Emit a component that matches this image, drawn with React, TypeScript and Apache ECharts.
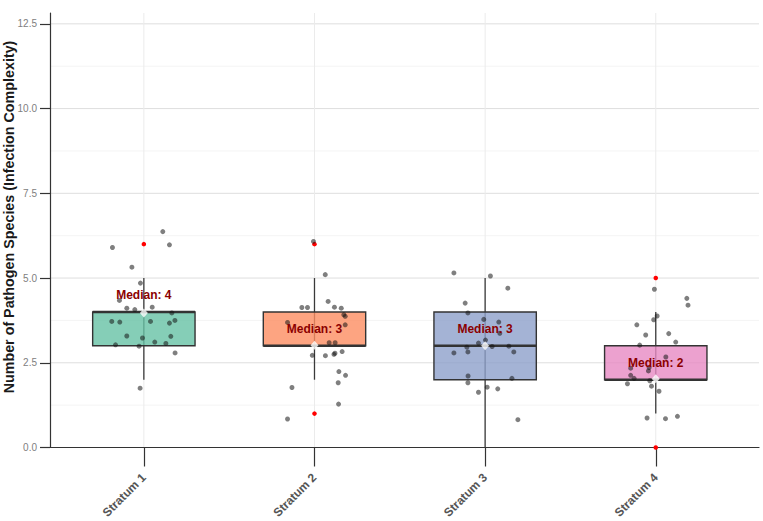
import React, { useEffect, useRef } from "react";
import * as echarts from "echarts";

// Strata on the x axis
const categories = ["Stratum 1", "Stratum 2", "Stratum 3", "Stratum 4"];

// Box statistics per stratum
const whiskerLow = [2, 2, 0, 1];
const q1 = [3, 3, 2, 2];
const medians = [4, 3, 3, 2];
const q3 = [4, 4, 4, 3];
const whiskerHigh = [5, 5, 5, 4];
const means = [3.97, 3.02, 3.0, 2.03];

// Outliers: [stratum number, pathogen count]
const outliers: [number, number][] = [
  [1, 6],
  [2, 6],
  [2, 1],
  [4, 5],
  [4, 0],
];

// Jittered observations: [horizontal jitter, jittered count]
const stratum1Points: [number, number][] = [
  [0.111, 6.37], [-0.184, 5.9], [0.15, 5.98], [-0.07, 5.32], [-0.02, 4.85],
  [-0.143, 4.34], [-0.1, 4.11], [-0.053, 4.07], [0.049, 4.14], [0.164, 3.97],
  [-0.188, 3.72], [-0.141, 3.7], [0.039, 3.72], [0.15, 3.67], [0.182, 3.75],
  [-0.1, 3.29], [-0.008, 3.23], [0.158, 3.28], [-0.166, 3.03], [-0.028, 2.99],
  [0.064, 3.11], [0.129, 3.07], [0.183, 2.79], [-0.022, 1.75],
];
const stratum2Points: [number, number][] = [
  [-0.006, 6.08], [0.063, 5.1], [0.08, 4.31], [-0.074, 4.13], [-0.041, 4.13],
  [0.117, 4.14], [0.157, 4.11], [0.172, 3.92], [0.18, 3.87], [-0.158, 3.69],
  [0.18, 3.62], [0.086, 3.09], [0.121, 3.09], [-0.013, 2.72], [0.064, 2.71],
  [0.114, 2.75], [0.12, 2.78], [0.162, 2.83], [0.143, 2.24], [0.182, 2.13],
  [0.139, 1.91], [-0.132, 1.77], [0.141, 1.28], [-0.158, 0.84],
];
const stratum3Points: [number, number][] = [
  [-0.183, 5.15], [0.031, 5.06], [0.133, 4.7], [-0.117, 4.26], [-0.101, 3.97],
  [-0.008, 3.78], [0.08, 3.7], [0.086, 3.37], [-0.039, 3.08], [0.002, 3.17],
  [-0.107, 2.96], [0.041, 2.98], [0.139, 2.99], [-0.183, 2.79], [-0.101, 2.82],
  [0.168, 2.82], [-0.1, 2.11], [0.157, 2.04], [-0.101, 1.91], [0.012, 1.78],
  [0.074, 1.73], [-0.039, 1.63], [0.192, 0.82],
];
const stratum4Points: [number, number][] = [
  [-0.008, 4.67], [0.182, 4.4], [0.189, 4.2], [0.008, 3.88], [-0.012, 3.77],
  [-0.111, 3.62], [-0.059, 3.32], [0.076, 3.36], [0.117, 3.11], [-0.094, 3.02],
  [0.059, 2.67], [-0.147, 2.34], [-0.039, 2.36], [-0.043, 2.26], [-0.147, 2.13],
  [-0.127, 2.04], [-0.035, 1.97], [-0.166, 1.88], [-0.025, 1.81], [0.019, 1.66],
  [-0.051, 0.87], [0.057, 0.85], [0.127, 0.92],
];
const stratumPoints = [stratum1Points, stratum2Points, stratum3Points, stratum4Points];

// Y axis ticks
const yTicks = [0, 2.5, 5, 7.5, 10, 12.5];
const yMinorTicks = [1.25, 3.75, 6.25, 8.75, 11.25];
const xTicks = [1, 2, 3, 4];

const boxColors = [
  "rgba(102,194,165,0.8)",
  "rgba(252,141,98,0.8)",
  "rgba(141,160,203,0.8)",
  "rgba(231,138,195,0.8)",
];

const FONT = "'Liberation Sans', Arial, Helvetica, sans-serif";
const BOX_HALF = 0.3;
const LABEL_OFFSET = 0.5;

export default function App() {
  const ref = useRef<HTMLDivElement>(null);

  useEffect(() => {
    if (!ref.current) return;
    const chart = echarts.init(ref.current, null, { renderer: "svg" });

    const gridData: number[][] = [
      ...yTicks.filter((v) => v > 0).map((v) => [0, v]),
      ...yMinorTicks.map((v) => [1, v]),
      ...xTicks.map((v) => [2, v]),
    ];

    const boxData = categories.map((_, i) => [
      i + 1,
      whiskerLow[i],
      q1[i],
      medians[i],
      q3[i],
      whiskerHigh[i],
    ]);

    const jitterData: number[][] = [];
    stratumPoints.forEach((pts, i) => {
      pts.forEach(([dx, y]) => jitterData.push([i + 1 + dx, y]));
    });

    const option: any = {
      animation: false,
      backgroundColor: "#ffffff",
      grid: { left: 50, right: 4, top: 13, bottom: 73, containLabel: false },
      xAxis: {
        type: "value",
        min: 0.45,
        max: 4.605,
        axisLine: { show: true, onZero: false, lineStyle: { color: "#333333", width: 1.2 } },
        axisTick: { show: true, customValues: xTicks, length: 19, lineStyle: { color: "#333333", width: 1.2 } },
        axisLabel: {
          customValues: xTicks,
          rotate: 45,
          margin: 28,
          color: "#555555",
          fontWeight: "bold",
          fontSize: 12,
          fontFamily: FONT,
          formatter: (v: number) => categories[Math.round(v) - 1] ?? "",
        },
        splitLine: { show: false },
      },
      yAxis: {
        type: "value",
        min: 0,
        max: 12.82,
        axisLine: { show: true, onZero: false, lineStyle: { color: "#333333", width: 1.2 } },
        axisTick: { show: true, customValues: yTicks, length: 10, lineStyle: { color: "#333333", width: 1.2 } },
        axisLabel: {
          customValues: yTicks,
          margin: 13,
          color: "#808080",
          fontSize: 10,
          fontFamily: FONT,
          formatter: (v: number) => v.toFixed(1),
        },
        splitLine: { show: false },
      },
      graphic: [
        {
          type: "text",
          x: 9,
          y: 217,
          rotation: Math.PI / 2,
          style: {
            text: "Number of Pathogen Species (Infection Complexity)",
            font: `bold 14.3px ${FONT}`,
            fill: "#1a1a1a",
            textAlign: "center",
            textVerticalAlign: "middle",
          },
        },
      ],
      series: [
        {
          type: "custom",
          name: "grid",
          silent: true,
          z: 0,
          data: gridData,
          renderItem: (params: any, api: any) => {
            const cs = params.coordSys;
            const kind = api.value(0);
            const v = api.value(1);
            if (kind === 2) {
              const p = api.coord([v, 0]);
              return {
                type: "line",
                shape: { x1: p[0], y1: cs.y, x2: p[0], y2: cs.y + cs.height },
                style: { stroke: "#ebebeb", lineWidth: 1 },
              };
            }
            const p = api.coord([1, v]);
            return {
              type: "line",
              shape: { x1: cs.x, y1: p[1], x2: cs.x + cs.width, y2: p[1] },
              style: { stroke: kind === 0 ? "#dedede" : "#f1f1f1", lineWidth: kind === 0 ? 1 : 0.8 },
            };
          },
        },
        {
          type: "custom",
          name: "boxes",
          silent: true,
          z: 2,
          encode: { x: 0, y: [1, 2, 3, 4, 5] },
          data: boxData,
          renderItem: (params: any, api: any) => {
            const x = api.value(0);
            const lo = api.coord([x, api.value(1)]);
            const b1 = api.coord([x - BOX_HALF, api.value(2)]);
            const md = api.coord([x, api.value(3)]);
            const b3 = api.coord([x + BOX_HALF, api.value(4)]);
            const hi = api.coord([x, api.value(5)]);
            const left = b1[0];
            const right = b3[0];
            return {
              type: "group",
              children: [
                {
                  type: "line",
                  shape: { x1: lo[0], y1: lo[1], x2: hi[0], y2: hi[1] },
                  style: { stroke: "#3a3a3a", lineWidth: 1.3 },
                },
                {
                  type: "rect",
                  shape: { x: left, y: b3[1], width: right - left, height: b1[1] - b3[1] },
                  style: { fill: boxColors[params.dataIndex], stroke: "#333333", lineWidth: 1.4 },
                },
                {
                  type: "line",
                  shape: { x1: left, y1: md[1], x2: right, y2: md[1] },
                  style: { stroke: "#333333", lineWidth: 2.5 },
                },
              ],
            };
          },
        },
        {
          type: "scatter",
          name: "outliers",
          silent: true,
          z: 3,
          symbol: "circle",
          symbolSize: 4.5,
          itemStyle: { color: "#ff0000", opacity: 1 },
          data: outliers,
        },
        {
          type: "scatter",
          name: "observations",
          silent: true,
          z: 4,
          symbol: "circle",
          symbolSize: 5,
          itemStyle: { color: "rgba(20,20,20,0.68)" },
          data: jitterData,
        },
        {
          type: "scatter",
          name: "means",
          silent: true,
          z: 5,
          symbol: "diamond",
          symbolSize: [8, 9],
          itemStyle: { color: "#ffffff" },
          data: means.map((m, i) => [i + 1, m]),
        },
        {
          type: "custom",
          name: "medianLabels",
          silent: true,
          z: 6,
          data: medians.map((m, i) => [i + 1, m]),
          renderItem: (_params: any, api: any) => {
            const m = api.value(1);
            const p = api.coord([api.value(0), m + LABEL_OFFSET]);
            return {
              type: "text",
              x: p[0],
              y: p[1],
              style: {
                text: `Median: ${m}`,
                fill: "#8b0000",
                font: `bold 12px ${FONT}`,
                textAlign: "center",
                textVerticalAlign: "middle",
              },
            };
          },
        },
      ],
    };

    chart.setOption(option);
    return () => chart.dispose();
  }, []);

  return (
    <div
      ref={ref}
      style={{ position: "fixed", left: 0, top: 0, width: 763, height: 521, background: "#fff" }}
    />
  );
}
